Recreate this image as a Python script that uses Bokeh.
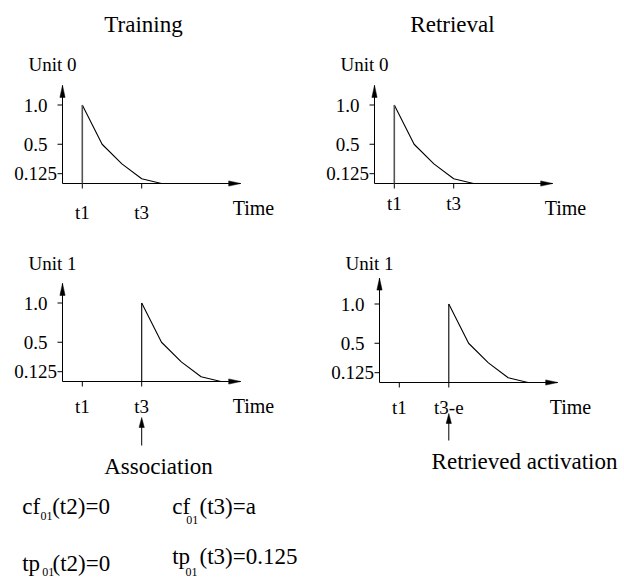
import math
from bokeh.plotting import figure
from bokeh.models import Range1d
from bokeh.embed import file_html
from bokeh.resources import INLINE
from bokeh.core.properties import value

FONT = value("Liberation Serif")

# ---------------- data ----------------
panel_titles = ["Training", "Retrieval"]
unit_labels = ["Unit 0", "Unit 0", "Unit 1", "Unit 1"]
ytick_values = [1.0, 0.5, 0.125]
ytick_labels = ["1.0", "0.5", "0.125"]
activation = [0.0, 1.0, 0.5, 0.25, 0.06, 0.0]          # decaying activation after onset
unit0_train_times = [1, 1, 2, 3, 4, 5]
unit0_retr_times = [1, 1, 2, 3, 4, 5]
unit1_train_times = [4, 4, 5, 6, 7, 8]
unit1_retr_times = [3.5, 3.5, 4.5, 5.5, 6.5, 7.5]
xtick_train_values = [1, 4]
xtick_train_labels = ["t1", "t3"]
xtick_retr1_values = [1, 3.5]
xtick_retr1_labels = ["t1", "t3-e"]
time_axis_end = 9.0
act_axis_top = [1.25, 1.25, 1.25, 1.33]
arrow_notes = ["Association", "Retrieved activation"]
# formula pieces: (main, subscript, rest)
formulas_row1 = [("cf", "01", "(t2)=0"), ("cf", "01", "(t3)=a")]
formulas_row2 = [("tp", "01", "(t2)=0"), ("tp", "01", "(t3)=0.125")]

# ---------------- layout (page pixel coordinates) ----------------
W, H = 624, 578
PX0, PX1, PY0, PY1 = 0, W, 0, H
SX, SY = 19.8, 78.5     # px per time step, px per activation unit

panels = [
    dict(X0=62, Y0=183, times=unit0_train_times, ticks=xtick_train_values, tlabels=xtick_train_labels,
         lab_dy=29, onset_color="#555555", onset_w=1.6),
    dict(X0=374, Y0=183, times=unit0_retr_times, ticks=xtick_train_values, tlabels=xtick_train_labels,
         lab_dy=20, onset_color="#555555", onset_w=1.6),
    dict(X0=62, Y0=381, times=unit1_train_times, ticks=xtick_train_values, tlabels=xtick_train_labels,
         lab_dy=25, onset_color="black", onset_w=1.1),
    dict(X0=379, Y0=382, times=unit1_retr_times, ticks=xtick_retr1_values, tlabels=xtick_retr1_labels,
         lab_dy=25, onset_color="black", onset_w=1.1),
]

p = figure(width=W, height=H, x_range=Range1d(PX0, PX1), y_range=Range1d(PY1, PY0),
           output_backend="svg", toolbar_location=None, min_border=0,
           x_axis_type=None, y_axis_type=None)
p.grid.visible = False
p.outline_line_color = None
p.background_fill_color = "white"
p.border_fill_color = "white"

AL, AW = 12, 2.6   # arrow head length / half width (px)

for i, pn in enumerate(panels):
    xn, yn = f"px{i}", f"py{i}"
    p.extra_x_ranges[xn] = Range1d((PX0 - pn["X0"]) / SX, (PX1 - pn["X0"]) / SX)
    p.extra_y_ranges[yn] = Range1d((pn["Y0"] - PY1) / SY, (pn["Y0"] - PY0) / SY)
    kw = dict(x_range_name=xn, y_range_name=yn)
    top = act_axis_top[i]
    # axes
    p.segment(x0=[0, 0], y0=[0, 0], x1=[time_axis_end, 0], y1=[0, top],
              line_color="black", line_width=1, **kw)
    p.patches(xs=[[time_axis_end, time_axis_end - AL / SX, time_axis_end - AL / SX],
                  [0, -AW / SX, AW / SX]],
              ys=[[0, AW / SY, -AW / SY],
                  [top, top - AL / SY, top - AL / SY]],
              fill_color="black", line_color="black", line_width=0.5, **kw)
    # y ticks and labels
    p.ray(x=[0] * len(ytick_values), y=ytick_values, length=5, length_units="screen",
          angle=math.pi, line_color="black", line_width=1, **kw)
    p.text(x=[0] * len(ytick_values), y=ytick_values, text=ytick_labels, x_offset=-27,
           text_align="center", text_baseline="middle", text_font=FONT,
           text_font_size="19px", text_color="black", **kw)
    # x ticks and labels
    p.ray(x=pn["ticks"], y=[0] * len(pn["ticks"]), length=5, length_units="screen",
          angle=-math.pi / 2, line_color="black", line_width=1, **kw)
    p.text(x=pn["ticks"], y=[0] * len(pn["ticks"]), text=pn["tlabels"], y_offset=pn["lab_dy"],
           text_align="center", text_baseline="alphabetic", text_font=FONT,
           text_font_size="19px", text_color="black", **kw)
    p.text(x=[time_axis_end], y=[0], text=["Time"], x_offset=-8, y_offset=24,
           text_align="left", text_baseline="alphabetic", text_font=FONT,
           text_font_size="20px", text_color="black", **kw)
    # activation curve
    t = pn["times"]
    p.line(t[1:], activation[1:], line_color="black", line_width=1.1, **kw)
    p.segment(x0=[t[0]], y0=[activation[0]], x1=[t[1]], y1=[activation[1]],
              line_color=pn["onset_color"], line_width=pn["onset_w"], **kw)

# arrows under the bottom panels
arrow_specs = [(2, 4, 445, 417), (3, 3.5, 440, 413)]
for (pi, tx, yb, yt) in arrow_specs:
    kw = dict(x_range_name=f"px{pi}")
    p.segment(x0=[tx], y0=[yb], x1=[tx], y1=[yt + 4], line_color="black", line_width=1, **kw)
    p.patches(xs=[[tx, tx - AW / SX, tx + AW / SX]], ys=[[yt, yt + 10, yt + 10]],
              fill_color="black", line_color="black", line_width=0.5, **kw)

# titles
p.text(x=[143, 452], y=[24, 24], text=panel_titles, text_align="center",
       text_baseline="alphabetic", text_font=FONT, text_font_size="23px", text_color="black")
p.text(x=[28, 340, 28, 345], y=[64, 64, 263, 263], text=unit_labels, text_align="left",
       text_baseline="alphabetic", text_font=FONT, text_font_size="19px", text_color="black")
p.text(x=[158, 524], y=[466, 461], text=arrow_notes, text_align="center",
       text_baseline="alphabetic", text_font=FONT, text_font_size="23px", text_color="black")

# formulas
main_x, sub_x, rest_x = [], [], []
main_y, sub_y, rest_y = [], [], []
main_t, sub_t, rest_t = [], [], []
pos_row1 = [(21.7, 40, 51.7, 506, 515), (171.7, 185.7, 199, 506, 519)]
pos_row2 = [(21.7, 41.7, 52, 563, 571), (171.7, 185, 199, 556, 571)]
for forms, poss in ((formulas_row1, pos_row1), (formulas_row2, pos_row2)):
    for (m, s, r), (xm, xs_, xr, yb, ys_) in zip(forms, poss):
        main_x.append(xm); main_y.append(yb); main_t.append(m)
        sub_x.append(xs_); sub_y.append(ys_); sub_t.append(s)
        rest_x.append(xr); rest_y.append(yb); rest_t.append(r)
p.text(x=main_x, y=main_y, text=main_t, text_align="left", text_baseline="alphabetic",
       text_font=FONT, text_font_size="23px", text_color="black")
p.text(x=rest_x, y=rest_y, text=rest_t, text_align="left", text_baseline="alphabetic",
       text_font=FONT, text_font_size="23px", text_color="black")
p.text(x=sub_x, y=sub_y, text=sub_t, text_align="left", text_baseline="alphabetic",
       text_font=FONT, text_font_size="12px", text_color="black")

open("out.html", "w").write(file_html(p, INLINE))
